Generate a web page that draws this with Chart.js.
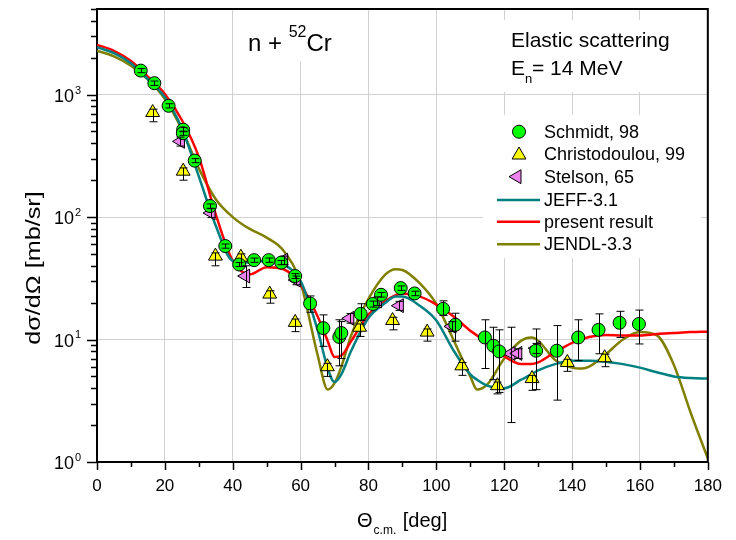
<!DOCTYPE html>
<html>
<head>
<meta charset="utf-8">
<script src="https://cdn.jsdelivr.net/npm/chart.js@4.4.1/dist/chart.umd.min.js"></script>
<style>
  html, body { margin: 0; padding: 0; background: #fff; }
</style>
</head>
<body>
<canvas id="myChart" width="736" height="540"></canvas>
<script>
// calculated curves, common angle grid [deg]
const curveAngles = [0, 5, 10, 15, 20, 25, 30, 35, 40, 45, 50, 55, 60, 65, 68, 70, 72, 75, 80, 85, 88, 90, 95, 100,
  105, 110, 112, 115, 120, 125, 128, 130, 135, 140, 143, 145, 150, 155, 160, 165, 170, 175, 180];

const jeffValues = [2440, 2180, 1800, 1330, 950, 530, 215, 85, 44, 42.5, 44, 41, 30, 12, 5.8, 4.5, 5.2, 8.2, 15, 20, 22.5, 22.5, 19, 14.3,
  8.2, 5.2, 4.7, 4.2, 4.0, 4.7, 5.2, 5.6, 6.3, 6.7, 6.7, 6.7, 6.6, 6.3, 5.9, 5.4, 5.0, 4.85, 4.8];

const presentValues = [2550, 2280, 1880, 1400, 1010, 620, 310, 105, 44, 34, 39, 37.5, 28, 15.5, 9.7, 7.2, 7.4, 9.8, 16, 20.5, 23, 23.8, 22.5, 19.3,
  15.5, 11.8, 10.8, 9.3, 7.3, 6.3, 6.3, 6.5, 7.9, 9.4, 10.1, 10.5, 10.9, 10.8, 10.8, 11.1, 11.3, 11.5, 11.6];

const jendlValues = [2280, 2050, 1720, 1330, 920, 520, 250, 140, 100, 80, 68, 53, 29, 7.5, 3.9, 4.4, 6.0, 11, 21.5, 34, 37.5, 37, 29, 19.5,
  10, 5, 3.9, 4.3, 7.0, 9.8, 10.4, 9.8, 6.8, 5.9, 5.8, 6.0, 7.6, 10, 11.5, 10.8, 6.2, 2.5, 1.07];

// measured data
const schmidtAngles = [12.9, 16.9, 21.1, 25.4, 25.3, 28.8, 33.3, 37.8, 41.9, 46.3, 50.6, 54.3, 58.4, 62.8, 66.7, 71.4, 72.0,
  77.7, 81.3, 83.7, 89.5, 93.6, 102.0, 105.6, 114.3, 116.8, 118.5, 129.4, 135.5, 141.8, 147.8, 154.0, 159.7];
const schmidtValues = [1570, 1240, 810, 517, 484, 289, 123, 58, 41, 44.5, 44.5, 42.5, 33, 19.7, 12.4, 10.5, 11.3,
  16.2, 19.5, 23.2, 26.3, 23.8, 17.8, 13.2, 10.4, 8.9, 8.0, 8.1, 8.1, 10.4, 12.0, 13.7, 13.4];
const schmidtLow = [1510, 1190, 778, 497, 465, 278, 118, 55.7, 39.4, 42.7, 42.7, 40.8, 31.5, 16.7, 8.8, 6.1, 7.0,
  14.3, 18.4, 22.2, 25.2, 22.8, 15.7, 9.7, 5.8, 4.7, 3.7, 3.9, 3.2, 6.75, 7.65, 10.4, 9.2];
const schmidtHigh = [1630, 1290, 842, 538, 503, 300, 128, 60.3, 42.6, 46.3, 46.3, 44.2, 34.5, 22.7, 15.9, 14.5, 14.0,
  19.6, 20.6, 24.2, 27.4, 24.8, 20.7, 16.4, 14.5, 12.6, 12.0, 12.2, 13.0, 14.5, 16.2, 17.0, 17.4];

const christAngles = [16.4, 25.4, 34.9, 42.4, 50.9, 58.4, 67.9, 77.4, 87.1, 97.3, 107.5, 118.0, 128.2, 138.6, 149.6];
const christValues = [714, 237, 48, 47, 23.5, 13.8, 6.0, 12.6, 14.3, 11.5, 6.1, 4.2, 4.8, 6.5, 7.1];
const christLow = [600, 200, 40, 39.5, 19.8, 11.6, 5.0, 10.6, 12.0, 9.7, 5.1, 3.6, 3.85, 5.5, 6.0];
const christHigh = [760, 252, 51, 50, 25, 14.7, 6.4, 13.4, 15.2, 12.2, 6.5, 4.5, 5.1, 6.9, 7.6];

const stelsonAngles = [24.6, 33.6, 43.8, 55.0, 58.7, 74.5, 82.6, 89.1, 104.6, 122.0, 124.0, 129.4];
const stelsonValues = [415, 108, 33, 44.5, 30.6, 14.9, 20.6, 18.9, 12.8, 7.7, 7.7, 8.5];
const stelsonLow = [380, 99, 26.6, 41, 28, 13.6, 19, 17.3, 11.6, 2.1, 7.0, 7.7];
const stelsonHigh = [450, 117, 40, 48, 33, 16.3, 22.3, 20.5, 14, 12.6, 8.4, 9.3];

const xTickLabels = [0, 20, 40, 60, 80, 100, 120, 140, 160, 180];
const yDecades = [1, 10, 100, 1000];

const pts = (xs, ys) => xs.map((x, i) => ({ x: x, y: ys[i] }));
const FONT = 'Arial, "Liberation Sans", sans-serif';

const curveStyle = (color) => ({
  type: 'line',
  borderColor: color,
  borderWidth: 2.5,
  pointRadius: 0,
  fill: false,
  cubicInterpolationMode: 'monotone',
  order: 2
});

const data = {
  datasets: [
    Object.assign({ label: 'JEFF-3.1', data: pts(curveAngles, jeffValues) }, curveStyle('#008080')),
    Object.assign({ label: 'present result', data: pts(curveAngles, presentValues) }, curveStyle('#ff0000')),
    Object.assign({ label: 'JENDL-3.3', data: pts(curveAngles, jendlValues) }, curveStyle('#808000')),
    {
      label: 'Schmidt, 98', data: pts(schmidtAngles, schmidtValues), low: schmidtLow, high: schmidtHigh,
      pointStyle: 'circle', pointRadius: 6.5, backgroundColor: '#00ff00', borderColor: '#000', borderWidth: 1, order: 1
    },
    {
      label: 'Christodoulou, 99', data: pts(christAngles, christValues), low: christLow, high: christHigh,
      pointStyle: 'triangle', pointRadius: 8, backgroundColor: '#ffff00', borderColor: '#000', borderWidth: 1, order: 1
    },
    {
      label: 'Stelson, 65', data: pts(stelsonAngles, stelsonValues), low: stelsonLow, high: stelsonHigh,
      pointStyle: 'triangle', rotation: -90, pointRadius: 8, backgroundColor: '#ee82ee', borderColor: '#000', borderWidth: 1, order: 1
    }
  ]
};

function supText(ctx, base, exp, x, y, size, supSize, align) {
  ctx.font = size + 'px ' + FONT;
  const wb = ctx.measureText(base).width;
  ctx.font = supSize + 'px ' + FONT;
  const we = ctx.measureText(exp).width;
  let x0 = align === 'right' ? x - wb : x;
  ctx.textAlign = 'left';
  ctx.textBaseline = 'alphabetic';
  ctx.font = size + 'px ' + FONT;
  ctx.fillText(base, x0, y);
  ctx.font = supSize + 'px ' + FONT;
  ctx.fillText(exp, x0 + wb + 1, y - size * 0.45);
  return x0 + wb + 1 + we;
}

const decorations = {
  id: 'decorations',
  beforeDatasetsDraw(chart) {
    const ctx = chart.ctx;
    ctx.save();
    ctx.fillStyle = '#fff';
    ctx.fillRect(240, 9, 110, 52);
    ctx.fillRect(500, 20, 205, 72);
    ctx.fillRect(483, 115, 218, 143);
    ctx.restore();
  },
  afterDatasetsDraw(chart) {
    const ctx = chart.ctx;
    const xs = chart.scales.x, ys = chart.scales.y;
    ctx.save();
    ctx.strokeStyle = '#000';
    ctx.lineWidth = 1;
    chart.data.datasets.forEach(ds => {
      if (!ds.low) return;
      ds.data.forEach((p, i) => {
        const px = Math.round(xs.getPixelForValue(p.x)) + 0.5;
        const y1 = ys.getPixelForValue(ds.low[i]);
        const y2 = ys.getPixelForValue(ds.high[i]);
        ctx.beginPath();
        ctx.moveTo(px, y1); ctx.lineTo(px, y2);
        ctx.moveTo(px - 4, y1); ctx.lineTo(px + 4, y1);
        ctx.moveTo(px - 4, y2); ctx.lineTo(px + 4, y2);
        ctx.stroke();
      });
    });
    ctx.restore();
  },
  afterDraw(chart) {
    const ctx = chart.ctx;
    const a = chart.chartArea;
    const xs = chart.scales.x, ys = chart.scales.y;
    ctx.save();
    ctx.fillStyle = '#000';
    ctx.strokeStyle = '#000';

    // frame top and right
    ctx.lineWidth = 2;
    ctx.beginPath();
    ctx.moveTo(a.left, a.top); ctx.lineTo(a.right, a.top); ctx.lineTo(a.right, a.bottom);
    ctx.stroke();

    // y ticks (outside) and labels
    ctx.lineWidth = 1.5;
    for (let d = 0; d < 4; d++) {
      for (let m = 1; m <= 9; m++) {
        const v = m * Math.pow(10, d);
        if (v > 5000) continue;
        const py = Math.round(ys.getPixelForValue(v)) + 0.5;
        ctx.beginPath();
        ctx.moveTo(a.left - (m === 1 ? 10 : 6), py);
        ctx.lineTo(a.left, py);
        ctx.stroke();
      }
    }
    yDecades.forEach((v, i) => {
      const py = ys.getPixelForValue(v);
      supText(ctx, '10', String(i), 74, py + 7, 18, 11, 'right');
    });

    // x ticks (outside)
    for (let v = 0; v <= 180; v += 10) {
      const px = Math.round(xs.getPixelForValue(v)) + 0.5;
      ctx.beginPath();
      ctx.moveTo(px, a.bottom);
      ctx.lineTo(px, a.bottom + (v % 20 === 0 ? 8 : 5));
      ctx.stroke();
    }

    // axis titles
    ctx.textBaseline = 'alphabetic';
    ctx.textAlign = 'left';
    ctx.font = '20px ' + FONT;
    let tx = 357;
    ctx.fillText('\u0398', tx, 527);
    tx += ctx.measureText('\u0398').width + 1;
    ctx.font = '12px ' + FONT;
    ctx.fillText('c.m.', tx, 534);
    tx += ctx.measureText('c.m.').width + 1;
    ctx.font = '20px ' + FONT;
    ctx.fillText(' [deg]', tx, 527);

    ctx.save();
    ctx.translate(40, 268);
    ctx.rotate(-Math.PI / 2);
    ctx.scale(1.2, 1);
    ctx.textAlign = 'center';
    ctx.font = '21px ' + FONT;
    ctx.fillText('d\u03C3/d\u03A9 [mb/sr]', 0, 0);
    ctx.restore();

    // reaction label
    ctx.font = '24px ' + FONT;
    ctx.fillText('n + ', 248, 51);
    let w = ctx.measureText('n + ').width;
    ctx.font = '16px ' + FONT;
    ctx.fillText('52', 248 + w, 37);
    w += ctx.measureText('52').width;
    ctx.font = '24px ' + FONT;
    ctx.fillText('Cr', 248 + w, 51);

    // annotation
    ctx.font = '21px ' + FONT;
    ctx.fillText('Elastic scattering', 511, 47);
    ctx.fillText('E', 511, 75);
    let ex = 511 + ctx.measureText('E').width;
    ctx.font = '13px ' + FONT;
    ctx.fillText('n', ex, 83);
    ctx.font = '21px ' + FONT;
    ctx.fillText('= 14 MeV', ex + 7, 75);

    // legend
    const rows = [131.7, 154, 176.7, 200, 221.7, 244.3];
    const ds = chart.data.datasets;
    const order = [3, 4, 5, 0, 1, 2];
    ctx.textBaseline = 'middle';
    ctx.font = '18px ' + FONT;
    order.forEach((k, i) => {
      const d = ds[k];
      const y = rows[i];
      if (d.type === 'line') {
        ctx.strokeStyle = d.borderColor;
        ctx.lineWidth = 2.5;
        ctx.beginPath();
        ctx.moveTo(497, y); ctx.lineTo(540, y);
        ctx.stroke();
      } else {
        ctx.fillStyle = d.backgroundColor;
        ctx.strokeStyle = '#000';
        ctx.lineWidth = 1;
        Chart.helpers.drawPoint(ctx, {
          pointStyle: d.pointStyle, rotation: d.rotation || 0, radius: d.pointRadius, borderWidth: 1
        }, d.rotation ? 517 : 519, y + (d.pointStyle === 'triangle' && !d.rotation ? 1 : 0));
      }
      ctx.fillStyle = '#000';
      ctx.fillText(d.label, 544, y + 1);
    });
    ctx.restore();
  }
};

const config = {
  type: 'scatter',
  data: data,
  options: {
    responsive: false,
    animation: false,
    layout: { padding: { top: 7.3, right: 23.3, left: 0, bottom: 0 } },
    plugins: {
      legend: { display: false },
      tooltip: { enabled: false }
    },
    scales: {
      x: {
        type: 'linear',
        min: 0,
        max: 180,
        afterBuildTicks: s => { s.ticks = xTickLabels.map(v => ({ value: v })); },
        ticks: { color: '#000', font: { family: FONT, size: 17 }, padding: 14, maxRotation: 0 },
        grid: { color: '#d2d2d2', lineWidth: 1, drawTicks: false },
        border: { color: '#000', width: 2 },
        afterFit: s => { s.height = 78; }
      },
      y: {
        type: 'logarithmic',
        min: 1,
        max: 5000,
        afterBuildTicks: s => { s.ticks = yDecades.map(v => ({ value: v })); },
        ticks: { display: false },
        grid: { color: '#d2d2d2', lineWidth: 1, drawTicks: false },
        border: { color: '#000', width: 2 },
        afterFit: s => { s.width = 97; }
      }
    }
  },
  plugins: [decorations]
};

const myChart = new Chart(document.getElementById('myChart'), config);
</script>
</body>
</html>
